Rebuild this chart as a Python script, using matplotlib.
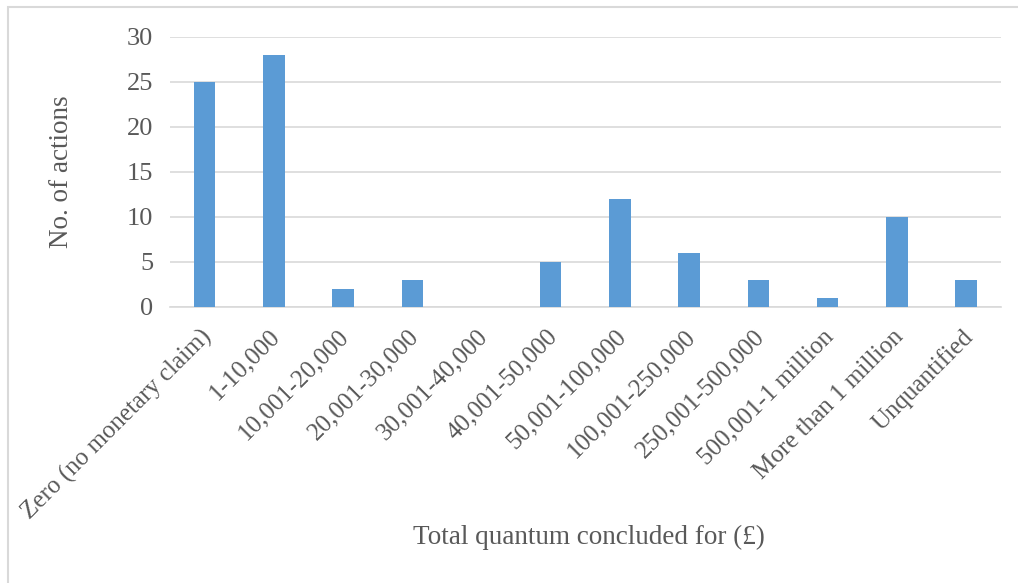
import matplotlib.pyplot as plt
from matplotlib.patches import Rectangle
from matplotlib.transforms import ScaledTranslation

categories = ['Zero (no monetary claim)', '1-10,000', '10,001-20,000', '20,001-30,000',
              '30,001-40,000', '40,001-50,000', '50,001-100,000', '100,001-250,000',
              '250,001-500,000', '500,001-1 million', 'More than 1 million', 'Unquantified']
actions = [25, 28, 2, 3, 0, 5, 12, 6, 3, 1, 10, 3]

plt.rcParams['font.family'] = ['Liberation Serif', 'DejaVu Serif']
txt = '#595959'
grid = '#d9d9d9'

fig = plt.figure(figsize=(10.18, 5.83), dpi=100)
ax = fig.add_axes([0.167, 0.474, 0.816, 0.463])

x = range(len(categories))
ax.bar(x, actions, width=0.31, color='#5b9bd5', zorder=3)

ax.set_xlim(-0.5, len(categories) - 0.5)
ax.set_ylim(0, 30)
ax.set_yticks(range(0, 31, 5))
ax.yaxis.grid(True, color=grid, linewidth=1.2, zorder=0)
for s in ['top', 'right', 'left']:
    ax.spines[s].set_visible(False)
ax.spines['bottom'].set_color(grid)
ax.spines['bottom'].set_linewidth(1.2)
ax.tick_params(axis='both', length=0, colors=txt)
ax.tick_params(axis='y', pad=12, labelsize=19)
ax.tick_params(axis='x', labelsize=18)
ax.set_xticks(list(x))
ax.set_xticklabels(categories, rotation=45, ha='right', va='top', rotation_mode='anchor')
shift = ScaledTranslation(-0.05, -0.14, fig.dpi_scale_trans)
for lab in ax.get_xticklabels():
    lab.set_transform(lab.get_transform() + shift)

ax.set_ylabel('No. of actions', fontsize=19.5, color=txt)
ax.yaxis.set_label_coords(-0.116, 0.5)
fig.text(0.579, 0.079, 'Total quantum concluded for (£)', fontsize=19.5, color=txt,
         ha='center', va='center')

fig.patches.append(Rectangle((8 / 1018, -0.02), 1.05, 1.02 - 7 / 583,
                             transform=fig.transFigure, fill=False,
                             edgecolor=grid, linewidth=1.5))

fig.savefig('out.png', dpi=100)
